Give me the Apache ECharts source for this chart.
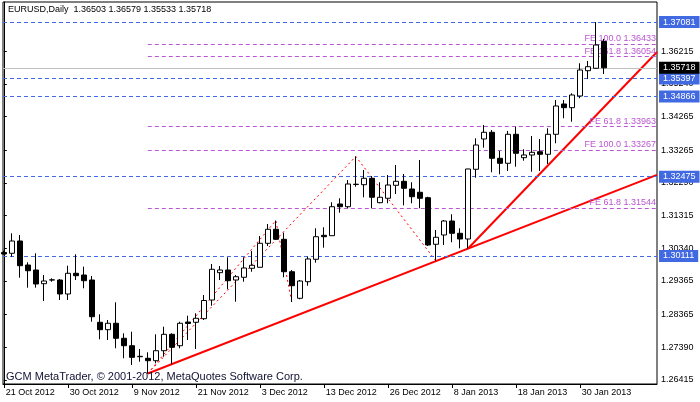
<!DOCTYPE html>
<html>
<head>
<meta charset="utf-8">
<script src="https://cdn.jsdelivr.net/npm/echarts@6/dist/echarts.min.js"></script>
<style>html,body{margin:0;padding:0;background:#fff}#c{width:700px;height:402px}</style>
</head>
<body>
<div id="c"></div>
<script>
const dates = ["21 Oct 2012","22 Oct 2012","23 Oct 2012","24 Oct 2012","25 Oct 2012","26 Oct 2012","28 Oct 2012","29 Oct 2012",
"30 Oct 2012","31 Oct 2012","1 Nov 2012","2 Nov 2012","5 Nov 2012","6 Nov 2012","7 Nov 2012","8 Nov 2012",
"9 Nov 2012","12 Nov 2012","13 Nov 2012","14 Nov 2012","15 Nov 2012","16 Nov 2012","19 Nov 2012","20 Nov 2012",
"21 Nov 2012","22 Nov 2012","23 Nov 2012","26 Nov 2012","27 Nov 2012","28 Nov 2012","29 Nov 2012","30 Nov 2012",
"3 Dec 2012","4 Dec 2012","5 Dec 2012","6 Dec 2012","7 Dec 2012","10 Dec 2012","11 Dec 2012","12 Dec 2012",
"13 Dec 2012","14 Dec 2012","17 Dec 2012","18 Dec 2012","19 Dec 2012","20 Dec 2012","21 Dec 2012","24 Dec 2012",
"26 Dec 2012","27 Dec 2012","28 Dec 2012","31 Dec 2012","2 Jan 2013","3 Jan 2013","4 Jan 2013","7 Jan 2013",
"8 Jan 2013","9 Jan 2013","10 Jan 2013","11 Jan 2013","14 Jan 2013","15 Jan 2013","16 Jan 2013","17 Jan 2013",
"18 Jan 2013","21 Jan 2013","22 Jan 2013","23 Jan 2013","24 Jan 2013","25 Jan 2013","28 Jan 2013","29 Jan 2013",
"30 Jan 2013","31 Jan 2013","1 Feb 2013","4 Feb 2013"];

const opens  = [1.30215,1.30191,1.30557,1.29842,1.29693,1.29285,1.29395,1.29395,
1.28978,1.29595,1.29544,1.29395,1.28135,1.27914,1.28105,1.27658,
1.27437,1.27109,1.27062,1.26990,1.27288,1.27777,1.27437,1.28143,
1.28135,1.28242,1.28799,1.29613,1.29693,1.29395,1.29476,1.29744,
1.29774,1.30489,1.30906,1.30608,1.29642,1.28850,1.29344,1.30012,
1.30727,1.30715,1.31660,1.31579,1.32240,1.32235,1.32426,1.31699,
1.31830,1.32217,1.32336,1.32107,1.32009,1.31848,1.30459,1.30736,
1.31153,1.30787,1.30617,1.32694,1.33597,1.33797,1.33022,1.32873,
1.33737,1.33040,1.33120,1.33218,1.33141,1.33737,1.34640,1.34530,
1.34878,1.35632,1.35704,1.36503];
const highs  = [1.30274,1.30787,1.30736,1.29923,1.30191,1.29544,1.29446,1.29425,
1.29821,1.30161,1.29791,1.29514,1.28373,1.28203,1.28730,1.27807,
1.27854,1.27339,1.27241,1.27777,1.28003,1.27807,1.28152,1.28331,
1.28403,1.28948,1.29872,1.29812,1.30072,1.29544,1.30072,1.30259,
1.30706,1.31064,1.31168,1.30805,1.29693,1.29395,1.30089,1.30936,
1.30966,1.31711,1.31830,1.32375,1.33076,1.32673,1.32494,1.32307,
1.32524,1.32822,1.32554,1.32307,1.32971,1.31877,1.30885,1.31183,
1.31353,1.30936,1.32710,1.33618,1.34014,1.33865,1.33239,1.33835,
1.33963,1.33290,1.33686,1.33597,1.33916,1.34759,1.34759,1.34959,
1.35853,1.35921,1.37081,1.36579];
const lows   = [1.30155,1.30089,1.29464,1.29166,1.29166,1.28769,1.29344,1.28799,
1.28799,1.29395,1.29148,1.28152,1.27628,1.27607,1.27360,1.27062,
1.26862,1.26960,1.26610,1.26913,1.27109,1.26883,1.27360,1.27607,
1.27339,1.28203,1.28629,1.29395,1.29118,1.28748,1.29344,1.29642,
1.29768,1.30408,1.30587,1.29476,1.28740,1.28820,1.29225,1.29911,
1.30358,1.30706,1.31401,1.31532,1.32175,1.31860,1.31532,1.31681,
1.31681,1.31958,1.31621,1.31681,1.31532,1.30408,1.29967,1.30438,
1.30519,1.30340,1.30328,1.32444,1.33338,1.32605,1.32545,1.32643,
1.32771,1.32950,1.32622,1.32643,1.32852,1.33469,1.34214,1.34112,
1.34810,1.35385,1.35683,1.35533];
const closes = [1.30170,1.30557,1.29821,1.29672,1.29276,1.29365,1.29400,1.28978,
1.29595,1.29523,1.29374,1.28301,1.27914,1.28105,1.27658,1.27437,
1.27091,1.27121,1.26990,1.27288,1.27777,1.27390,1.28105,1.28099,
1.28254,1.28784,1.29714,1.29693,1.29374,1.29493,1.29753,1.29833,
1.30489,1.30906,1.30608,1.29642,1.29225,1.29365,1.30021,1.30685,
1.30685,1.31579,1.31579,1.32256,1.32250,1.32426,1.31860,1.31860,
1.32226,1.32336,1.32128,1.31877,1.31830,1.30438,1.30668,1.31153,
1.30787,1.30617,1.32703,1.33418,1.33797,1.33022,1.32873,1.33737,
1.33171,1.33120,1.33200,1.33141,1.33737,1.34580,1.34530,1.34908,
1.35653,1.35751,1.36398,1.35718];

const yTicks = [1.26415,1.27390,1.28365,1.29365,1.30340,1.31315,1.32290,1.33265,1.34265,1.35240,1.36215,1.37080];
const xLabelIdx = [0,8,16,24,32,40,48,56,64,72];
const blueLevels = [1.37081,1.35397,1.34866,1.32475,1.30111];
const currentPrice = 1.35718;
const feLevels = [1.36433,1.36054,1.33963,1.33267,1.31544];
const feNames = ["FE 100.0","FE 161.8","FE 61.8","FE 100.0","FE 61.8"];
const feStartIdx = 18;
const trend1 = [[18,1.26610],[58,1.30328]];
const trend2 = [[58,1.30328],[70,1.33302]];
const fe1 = [[18,1.26610],[44,1.33076],[54,1.29967]];
const fe2 = [[18,1.26610],[34,1.31168],[36,1.28740]];
const titleText = "EURUSD,Daily  1.36503 1.36579 1.35533 1.35718";
const copyText = "GCM MetaTrader, \u00a9 2001-2012, MetaQuotes Software Corp.";

const X_MIN = -0.1, X_MAX = 81.65, Y_MIN = 1.26296, Y_MAX = 1.37679;
const FONT = "Liberation Sans, Arial, sans-serif";
const BLUE = "#4169E1", PURPLE = "#BA55D3", RED = "#FF0000";

function ray(p) {
  const s = (p[1][1]-p[0][1])/(p[1][0]-p[0][0]);
  return [p[0], [X_MAX, p[0][1] + s*(X_MAX-p[0][0])]];
}

const candleData = dates.map((d,i)=>[i, opens[i], closes[i], lows[i], highs[i]]);

const mlData = [];
blueLevels.forEach(v=>{
  mlData.push([{coord:[X_MIN,v], lineStyle:{color:BLUE,type:[4,3],width:1},
    label:{show:true,position:'end',formatter:v.toFixed(5),backgroundColor:BLUE,color:'#fff',
      padding:[1,4,0,4],distance:2,fontSize:9,fontFamily:FONT,lineHeight:11}},{coord:[X_MAX,v]}]);
});
mlData.push([{coord:[X_MIN,currentPrice], lineStyle:{color:'#C0C0C0',type:'solid',width:1},
  label:{show:true,position:'end',formatter:currentPrice.toFixed(5),backgroundColor:'#000',color:'#fff',
    padding:[1,4,0,4],distance:2,fontSize:9,fontFamily:FONT,lineHeight:11}},{coord:[X_MAX,currentPrice]}]);
feLevels.forEach((v,k)=>{
  mlData.push([{coord:[feStartIdx,v], lineStyle:{color:PURPLE,type:[4,3],width:1},
    label:{show:true,position:'insideEndTop',formatter:feNames[k]+' '+v.toFixed(5),color:PURPLE,
      distance:1,fontSize:9,fontFamily:FONT}},{coord:[X_MAX,v]}]);
});

const chart = echarts.init(document.getElementById('c'), null, {renderer:'canvas'});
chart.setOption({
  animation:false,
  backgroundColor:'#fff',
  grid:{left:3,right:43,top:2,bottom:18,show:true,borderColor:'#000',borderWidth:1,backgroundColor:'#fff'},
  xAxis:{type:'value',min:X_MIN,max:X_MAX,
    axisLine:{show:true,lineStyle:{color:'#000'}},
    splitLine:{show:false},
    axisTick:{show:true,customValues:xLabelIdx,length:4,lineStyle:{color:'#000'}},
    axisLabel:{customValues:xLabelIdx,formatter:v=>dates[Math.round(v)],align:'left',padding:[0,0,0,2],
      margin:4,color:'#000',fontSize:9,fontFamily:FONT}},
  yAxis:{type:'value',position:'right',min:Y_MIN,max:Y_MAX,scale:true,
    axisLine:{show:true,lineStyle:{color:'#000'}},
    splitLine:{show:false},
    axisTick:{show:true,customValues:yTicks,length:3,lineStyle:{color:'#000'}},
    axisLabel:{customValues:yTicks,formatter:v=>v.toFixed(5),margin:4,color:'#000',fontSize:9,fontFamily:FONT}},
  graphic:[
    {type:'text',left:8,top:5,z:10,style:{text:titleText,fill:'#000',font:'9px '+FONT}},
    {type:'text',left:6,top:371,z:10,style:{text:copyText,fill:'#111133',font:'11px '+FONT}}
  ],
  series:[
    {type:'line',data:[],z:1,markLine:{symbol:['none','none'],silent:true,animation:false,data:mlData}},
    {type:'line',data:ray(trend1),z:2,showSymbol:false,symbol:'none',lineStyle:{color:RED,width:2}},
    {type:'line',data:ray(trend2),z:2,showSymbol:false,symbol:'none',lineStyle:{color:RED,width:2}},
    {type:'line',data:fe1,z:2,showSymbol:false,symbol:'none',lineStyle:{color:RED,width:1,type:[2,3]}},
    {type:'line',data:fe2,z:2,showSymbol:false,symbol:'none',lineStyle:{color:RED,width:1,type:[2,3]}},
    {type:'candlestick',data:candleData,encode:{x:0,y:[1,2,3,4]},z:5,barWidth:5,
      itemStyle:{color:'#fff',color0:'#000',borderColor:'#000',borderColor0:'#000',borderWidth:1}}
  ]
});
</script>
</body>
</html>
